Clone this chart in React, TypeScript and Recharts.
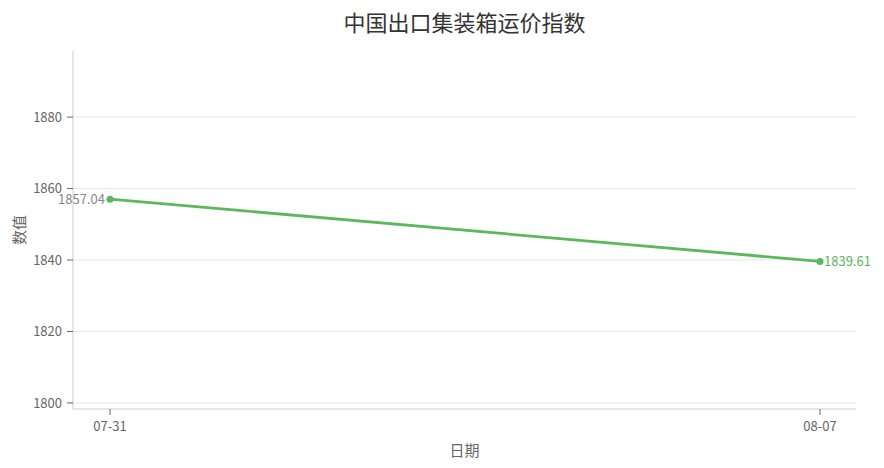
import { LineChart, Line, XAxis, YAxis, CartesianGrid, LabelList } from "recharts"

const dates = ["07-31", "08-07"]
const values = [1857.04, 1839.61]
const yTicks = [1800, 1820, 1840, 1860, 1880]

const data = dates.map((d, i) => ({ date: d, value: values[i] }))

const FONT = '"Noto Sans CJK SC", "Noto Sans", sans-serif'
const GREEN = "#5cb85c"

function PointLabel(props: any) {
  const { x, y, index, value } = props
  const first = index === 0
  return (
    <text
      x={first ? x - 5 : x + 4}
      y={y}
      dy="0.35em"
      textAnchor={first ? "end" : "start"}
      fill={first ? "#888" : GREEN}
      fontSize={13}
      fontFamily={FONT}
    >
      {Number(value).toFixed(2)}
    </text>
  )
}

export default function App() {
  return (
    <div style={{ position: "absolute", left: 0, top: 0, width: 884, height: 468, background: "#fff" }}>
      <div
        style={{
          position: "absolute",
          left: 73,
          width: 783,
          top: 5,
          textAlign: "center",
          fontFamily: FONT,
          fontSize: 22,
          color: "#333",
        }}
      >
        中国出口集装箱运价指数
      </div>
      <LineChart width={884} height={468} data={data} margin={{ top: 51, right: 28, bottom: 0, left: 0 }}>
        <CartesianGrid stroke="#e6e6e6" vertical={false} syncWithTicks />
        <XAxis
          dataKey="date"
          height={59}
          padding={{ left: 37, right: 36 }}
          tick={{ fill: "#666", fontSize: 13, fontFamily: FONT }}
          tickLine={{ stroke: "#666" }}
          tickSize={6}
          tickMargin={7}
          axisLine={{ stroke: "#ccc" }}
          label={{ value: "日期", position: "insideBottom", offset: 12, fill: "#666", fontSize: 15, fontFamily: FONT }}
        />
        <YAxis
          width={73}
          domain={[1798.3, 1898.5]}
          ticks={yTicks}
          tick={{ fill: "#666", fontSize: 13, fontFamily: FONT }}
          tickLine={{ stroke: "#666" }}
          tickSize={6}
          tickMargin={5}
          axisLine={{ stroke: "#ccc" }}
          label={{
            value: "数值",
            angle: -90,
            position: "insideLeft",
            offset: 20,
            fill: "#666",
            fontSize: 15,
            fontFamily: FONT,
            style: { textAnchor: "middle" },
          }}
        />
        <Line
          type="linear"
          dataKey="value"
          stroke={GREEN}
          strokeWidth={2.8}
          dot={{ r: 3.5, fill: GREEN, stroke: GREEN, strokeWidth: 0 }}
          isAnimationActive={false}
        >
          <LabelList dataKey="value" content={<PointLabel />} />
        </Line>
      </LineChart>
    </div>
  )
}
